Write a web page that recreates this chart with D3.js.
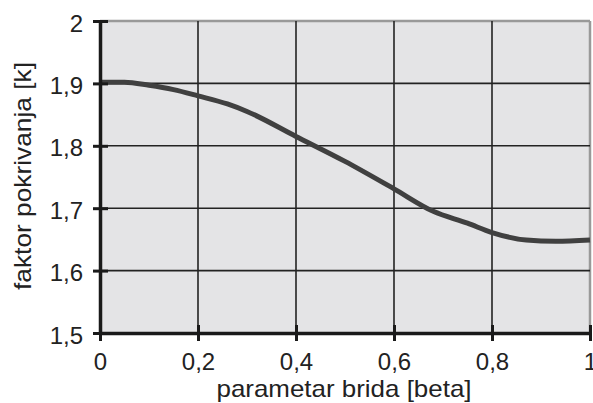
<!DOCTYPE html>
<html><head><meta charset="utf-8">
<script src="https://cdn.jsdelivr.net/npm/d3@7"></script>
<style>body{margin:0;background:#fff}svg{display:block}text{font-family:"Liberation Sans",Arial,sans-serif;fill:#222}</style>
</head><body><svg id="c" width="593" height="403"></svg>
<script>
const betaValues = [0, 0.05, 0.1, 0.15, 0.2, 0.26, 0.3, 0.4, 0.5, 0.6, 0.68, 0.75, 0.8, 0.87, 0.93, 1.0];
const kValues    = [1.902, 1.902, 1.897, 1.890, 1.880, 1.867, 1.855, 1.815, 1.775, 1.731, 1.695, 1.676, 1.661, 1.649, 1.647, 1.649];
const xTicks = [0, 0.2, 0.4, 0.6, 0.8, 1];
const yTicks = [1.5, 1.6, 1.7, 1.8, 1.9, 2];
const xTitle = "parametar brida [beta]";
const yTitle = "faktor pokrivanja [k]";

const svg = d3.select("#c");
const L = 100, R = 590, T = 21, B = 333;
const x = d3.scaleLinear().domain([0,1]).range([L,R]);
const y = d3.scaleLinear().domain([1.5,2]).range([B,T]);
const fmt = d => String(d).replace(".", ",");

svg.append("rect").attr("x",L).attr("y",T).attr("width",R-L).attr("height",B-T).attr("fill","#e4e4e6");
svg.append("line").attr("x1",L).attr("x2",R).attr("y1",T).attr("y2",T).attr("stroke","#999").attr("stroke-width",2.5);
svg.append("line").attr("x1",R).attr("x2",R).attr("y1",T).attr("y2",B).attr("stroke","#999").attr("stroke-width",2.5);
svg.append("g").selectAll("line").data(xTicks.slice(1,-1)).join("line")
  .attr("x1",d=>x(d)).attr("x2",d=>x(d)).attr("y1",T).attr("y2",B).attr("stroke","#222").attr("stroke-width",1.6);
svg.append("g").selectAll("line").data(yTicks.slice(1,-1)).join("line")
  .attr("x1",L).attr("x2",R).attr("y1",d=>y(d)).attr("y2",d=>y(d)).attr("stroke","#222").attr("stroke-width",1.6);

svg.append("path").datum(betaValues.map((b,i)=>[b,kValues[i]]))
  .attr("d", d3.line().x(d=>x(d[0])).y(d=>y(d[1])).curve(d3.curveMonotoneX))
  .attr("fill","none").attr("stroke","#404040").attr("stroke-width",5).attr("stroke-linejoin","round");

const xa = svg.append("g").attr("transform",`translate(0,${B})`)
  .call(d3.axisBottom(x).tickValues(xTicks).tickFormat(fmt).tickSizeInner(8).tickSizeOuter(0).tickPadding(12));
const ya = svg.append("g").attr("transform",`translate(${L},0)`)
  .call(d3.axisLeft(y).tickValues(yTicks).tickFormat(fmt).tickSizeInner(7).tickSizeOuter(0).tickPadding(10));
[xa, ya].forEach(g => {
  g.select(".domain").attr("stroke","#1a1a1a").attr("stroke-width",3.5);
  g.selectAll(".tick line").attr("stroke","#1a1a1a").attr("stroke-width",3);
  g.selectAll(".tick text").attr("font-size",24).attr("fill","#222").attr("font-family","Liberation Sans, Arial, sans-serif");
});
ya.selectAll(".tick text").attr("dy","0.42em");
xa.selectAll(".tick line").attr("y1",-8).attr("y2",8);
ya.selectAll(".tick line").attr("x1",-7).attr("x2",8);

svg.append("text").attr("x",344).attr("y",397).attr("text-anchor","middle").attr("font-size",24)
  .attr("textLength",255).attr("lengthAdjust","spacingAndGlyphs").text(xTitle);
svg.append("text").attr("transform",`translate(31,176) rotate(-90)`).attr("text-anchor","middle").attr("font-size",24)
  .attr("textLength",228).attr("lengthAdjust","spacingAndGlyphs").text(yTitle);
</script></body></html>
